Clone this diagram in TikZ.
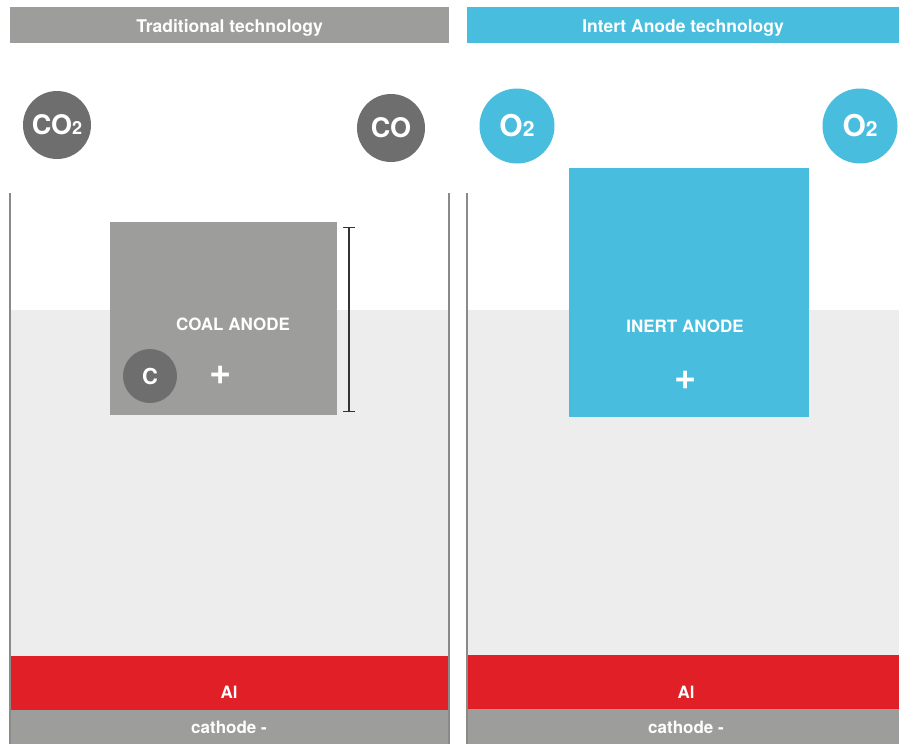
\documentclass[tikz,border=0pt]{standalone}
\usepackage{fontspec}
\setmainfont{TeX Gyre Heros}
\usetikzlibrary{arrows.meta}
\definecolor{hdgrey}{HTML}{9D9D9C}
\definecolor{inblue}{HTML}{48BDDE}
\definecolor{gasgrey}{HTML}{6E6E6E}
\definecolor{bath}{HTML}{EDEDED}
\definecolor{alred}{HTML}{E11F26}
\definecolor{wallgrey}{HTML}{8A8A86}
\tikzset{
  header/.style={fill=#1,inner sep=0pt,minimum width=439pt,minimum height=36pt,text height=14pt,text depth=0pt,text=white,font=\fontsize{17.5}{20}\selectfont\bfseries},
  gas/.style={circle,fill=#1,inner sep=0pt,text=white,font=\fontsize{27}{29}\selectfont\bfseries},
  label/.style={text=white,inner sep=0pt,font=\fontsize{17}{19}\selectfont\bfseries},
  plus/.style={label,font=\fontsize{38}{40}\selectfont\bfseries},
  wall/.style={draw=wallgrey,line width=2pt},
}
\newcommand{\sub}[1]{\fontsize{18}{20}\selectfont#1}
\newcommand{\osub}[1]{\fontsize{21}{23}\selectfont#1}
\begin{document}
\begin{tikzpicture}[x=1pt,y=-1pt]
        \useasboundingbox[fill=white](0,0)rectangle(899,744);

        \fill[bath](10,310)rectangle(448,656);
        \fill[alred](10,656)rectangle(448,710);
        \fill[hdgrey](10,710)rectangle(448,744);
        \fill[bath](467,310)rectangle(899,655);
        \fill[alred](467,655)rectangle(899,709);
        \fill[hdgrey](467,709)rectangle(899,744);
        \draw[wall](10,193)--(10,744);
        \draw[wall](448.5,193)--(448.5,744);
        \draw[wall](466.5,193)--(466.5,744);

        \node[header=hdgrey](trad)at(229.5,25){Traditional technology};
        \node[header=inblue,minimum width=432pt](inert)at(683,25){Intert Anode technology};

        \node[gas=gasgrey,minimum size=68pt](co2)at(57,125){CO\sub{2}};
        \node[gas=gasgrey,minimum size=68pt](co)at(391,128){CO};
        \node[gas=inblue,minimum size=75pt,font=\fontsize{30}{32}\selectfont\bfseries](o2l)at(517,126){O\osub{2}};
        \node[gas=inblue,minimum size=75pt,font=\fontsize{30}{32}\selectfont\bfseries](o2r)at(860,126){O\osub{2}};

        \node[fill=hdgrey,minimum width=227pt,minimum height=193pt,inner sep=0pt](coal)at(223.5,318.5){};
        \node[label](coallbl)at(233,324){COAL ANODE};
        \node[gas=gasgrey,minimum size=54pt,font=\fontsize{22}{24}\selectfont\bfseries](carbon)at(150,376){C};
        \node[plus](coalplus)at(221,375){+};

        \coordinate(bartop)at(349,227);
        \coordinate(barbot)at(349,412);
        \draw[{Bar[width=12pt]}-{Bar[width=12pt]},line width=1.4pt,draw=black!80](bartop)--(barbot);

        \node[fill=inblue,minimum width=240pt,minimum height=249pt,inner sep=0pt](anode)at(689,292.5){};
        \node[label](anodelbl)at(685,326){INERT ANODE};
        \node[plus](anodeplus)at(686,380){+};

        \node[label](all)at(229,692){Al};
        \node[label](alr)at(686,692){Al};
        \node[label](cathl)at(229,727){cathode -};
        \node[label](cathr)at(686,727){cathode -};
    \end{tikzpicture}
\end{document}
